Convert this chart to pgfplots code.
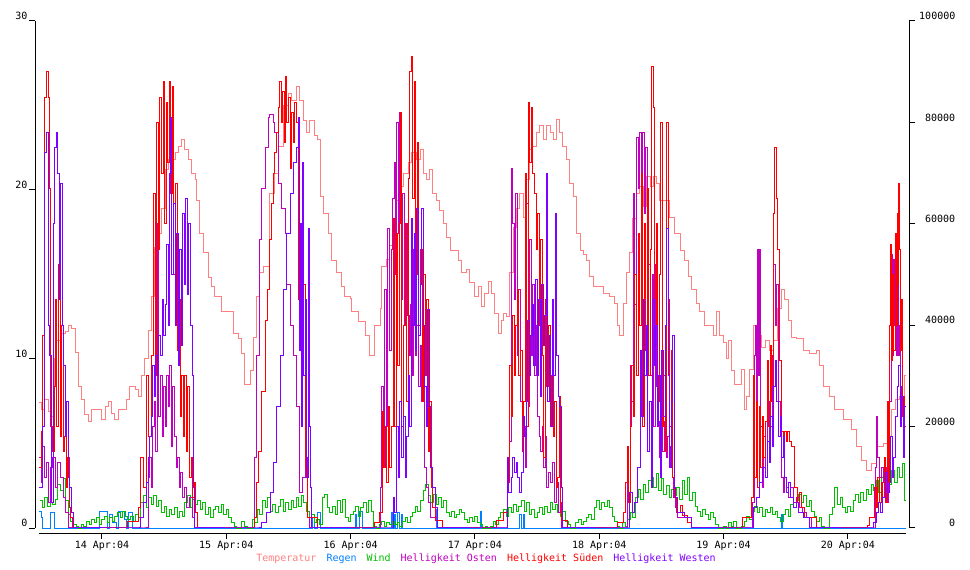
\documentclass[border=0pt]{standalone}
\usepackage{pgfplots}
\pgfplotsset{compat=1.18}
\usepackage{fontspec}
\setmainfont{DejaVu Sans Mono}
\setmonofont{DejaVu Sans Mono}
\definecolor{colTemp}{HTML}{FF8080}
\definecolor{colRain}{HTML}{0080FF}
\definecolor{colWind}{HTML}{00C000}
\definecolor{colOsten}{HTML}{C000C0}
\definecolor{colSueden}{HTML}{FF0000}
\definecolor{colWesten}{HTML}{8000FF}
\newcommand{\lblfont}{\fontsize{10bp}{12bp}\selectfont}
\pgfplotsset{
  base/.style={
    at={(35bp,42bp)}, anchor=south west, scale only axis,
    width=874bp, height=507bp,
    xmin=11.07, xmax=179.8,
    axis line style={draw=none},
    tick align=outside, major tick length=6bp,
    tick style={black, line width=1bp},
    ticklabel style={font=\lblfont},
    clip=false,
  },
  bright/.style={base, ymin=0, ymax=100000, xtick=\empty, ytick=\empty},
  ser/.style={draw=#1, const plot, line width=1bp, mark=none},
}
\begin{document}
\begin{tikzpicture}
\useasboundingbox (0,0) rectangle (970bp,570bp);
\fill[white] (0,0) rectangle (970bp,570bp);
\begin{axis}[base,
  ymin=0, ymax=30,
  xtick={24,48,72,96,120,144,168},
  xticklabels={14 Apr:04,15 Apr:04,16 Apr:04,17 Apr:04,18 Apr:04,19 Apr:04,20 Apr:04},
  ytick={0,10,20,30}, yticklabels={0,10,20,30},
  xtick pos=left, ytick pos=left,
  xtick style={yshift=-5bp},
  xticklabel style={yshift=-4bp},
  yticklabel style={inner sep=1.5bp, yshift=5bp},
]
% Temperatur
\addplot[ser=colTemp] coordinates {(11.8,7.4)(12.4,7.0)(13.0,7.6)(13.6,6.9)(14.3,6.6)(14.9,10.0)(15.3,11.1)(15.9,11.5)(16.9,11.6)(17.5,12.0)(18.2,11.8)(18.8,10.4)(19.4,8.4)(20.1,7.6)(20.7,6.7)(21.4,6.3)(22.0,7.0)(23.0,7.0)(23.9,6.4)(24.6,7.2)(25.2,7.5)(25.9,6.8)(26.5,6.4)(27.1,7.0)(28.1,7.0)(28.8,7.6)(29.4,8.4)(30.4,8.2)(31.0,7.8)(31.7,9.0)(32.3,10.0)(32.9,11.7)(33.6,13.7)(34.2,16.6)(34.9,17.4)(35.5,18.9)(36.2,21.2)(36.8,21.8)(38.1,22.2)(38.7,22.6)(39.4,23.0)(40.0,22.4)(40.7,21.8)(41.3,21.0)(42.0,20.6)(42.3,19.4)(42.9,17.4)(43.6,16.3)(44.5,14.8)(45.2,14.3)(45.8,13.7)(47.1,12.8)(49.0,12.8)(49.3,11.5)(50.3,11.2)(51.0,10.3)(51.6,8.5)(52.6,9.3)(53.2,11.3)(53.9,13.7)(54.5,15.1)(55.1,15.5)(56.4,19.8)(57.4,21.0)(58.0,22.6)(59.0,25.0)(60.0,25.7)(60.6,25.3)(61.6,26.1)(62.2,25.3)(62.9,24.1)(63.5,23.4)(64.1,24.1)(65.1,23.2)(65.7,23.0)(66.1,19.6)(66.7,18.6)(67.7,17.4)(68.3,15.8)(69.3,15.1)(70.3,14.3)(70.9,13.7)(71.9,13.6)(72.2,12.8)(73.5,12.2)(74.8,11.4)(75.7,10.2)(76.7,12.0)(77.7,13.0)(78.0,15.5)(79.0,15.9)(79.6,16.7)(80.6,19.4)(81.2,20.2)(82.2,21.0)(83.1,21.6)(83.8,22.2)(84.7,21.8)(85.4,22.4)(86.0,21.0)(86.7,20.6)(87.3,21.2)(87.9,19.8)(88.6,19.4)(89.2,18.8)(89.9,18.0)(90.5,17.2)(91.2,16.4)(92.1,16.4)(92.8,15.8)(93.4,15.1)(94.4,15.3)(95.0,14.5)(96.0,13.7)(96.6,14.3)(97.3,13.1)(97.9,13.9)(98.6,14.6)(99.2,13.9)(99.8,12.7)(100.5,11.5)(101.1,12.3)(101.5,12.7)(102.1,12.5)(102.7,15.1)(103.4,17.8)(104.0,18.9)(104.7,19.8)(105.3,18.4)(106.0,20.6)(106.6,22.4)(107.2,22.6)(107.9,23.4)(108.5,23.8)(109.2,23.0)(109.8,23.8)(110.5,23.4)(111.1,23.0)(111.8,24.2)(112.4,23.4)(113.0,22.6)(113.7,21.8)(114.3,20.4)(115.0,19.6)(115.6,17.4)(116.3,16.4)(116.9,16.2)(117.5,15.8)(118.2,14.9)(118.8,14.3)(120.8,13.9)(122.0,13.7)(123.0,13.3)(123.6,12.0)(124.0,11.4)(124.6,13.3)(125.3,15.1)(125.9,16.3)(126.5,18.3)(127.2,19.8)(127.8,20.2)(128.5,19.0)(129.1,20.8)(129.8,20.2)(130.4,20.8)(131.1,20.4)(131.7,19.4)(132.7,19.4)(133.6,18.4)(134.6,17.4)(135.6,16.4)(136.5,15.8)(137.2,14.9)(137.8,14.1)(138.8,13.3)(139.4,12.8)(140.4,12.0)(141.7,12.0)(142.0,11.4)(142.6,12.8)(143.3,11.4)(143.9,11.0)(144.6,10.0)(144.9,11.1)(145.5,9.3)(146.2,8.5)(147.5,9.4)(148.0,7.0)(148.4,7.8)(149.1,9.4)(149.7,12.0)(150.4,11.4)(151.3,10.7)(152.0,11.1)(152.9,10.5)(153.6,11.1)(154.5,13.0)(155.2,14.1)(155.8,13.5)(156.5,12.3)(157.1,11.3)(158.1,11.2)(159.4,10.5)(160.6,10.3)(161.9,10.5)(162.6,9.6)(163.2,8.4)(164.5,7.8)(165.5,7.0)(167.1,6.4)(168.7,5.8)(169.7,4.8)(170.6,4.0)(171.6,3.4)(172.6,3.8)(173.5,4.8)(174.8,5.0)(175.8,5.4)(176.4,7.0)(177.1,7.6)(178.0,7.8)(179.0,9.0)(179.2,9.0)};
% Regen
\addplot[ser=colRain] coordinates {(11.8,1.0)(12.3,0.6)(12.6,0)(14.0,0.9)(14.9,0)(23.6,1.0)(25.0,0)(25.5,0.8)(26.1,0.3)(26.9,0)(27.1,1.0)(28.4,0.5)(28.8,0)(29.2,0.9)(29.8,0)(64.7,0.6)(65.1,0)(65.7,0.9)(66.1,0)(73.0,0.8)(73.2,0)(73.8,1.0)(74.2,0)(79.8,0.9)(80.0,0)(80.4,0.8)(80.6,0)(81.1,0.9)(81.4,0)(81.9,0.8)(82.1,0)(88.5,1.1)(88.8,0)(97.0,1.0)(97.3,0)(104.7,0.8)(105.0,0)(105.3,0.8)(105.6,0)(155.1,0.8)(155.3,0)(179.2,0)};
% Wind
\addplot[ser=colWind] coordinates {(12,1.6)(12.5,1.2)(13,1.8)(13.5,1.3)(14,1.5)(14.5,1.4)(15,1.7)(15.5,2.6)(16,2.2)(16.5,2.9)(17,1.6)(17.5,0.8)(18,0.4)(18.5,0.2)(19,0.1)(19.5,0.0)(20,0.2)(20.5,0.1)(21,0.4)(21.5,0.2)(22,0.5)(22.5,0.3)(23,0.6)(23.5,0.2)
(24,0.5)(24.5,0.7)(25,0.3)(25.5,0.6)(26,0.4)(26.5,0.7)(27,0.9)(27.5,0.6)(28,1.0)(28.5,0.7)(29,0.5)(29.5,0.7)(30,0.4)(30.5,0.8)(31,0.6)(31.5,1.5)(32,1.9)(32.5,1.2)(33,1.8)(33.5,1.4)(34,1.9)(34.5,1.3)(35,1.6)(35.5,0.9)(36,1.3)(36.5,0.7)(37,1.1)(37.5,0.8)(38,1.2)(38.5,0.6)(39,1.0)(39.5,0.7)(40,1.5)(40.5,1.9)(41,1.2)(41.5,1.7)(42,1.4)(42.5,1.6)(43,1.1)(43.5,1.5)(44,0.8)(44.5,1.2)(45,0.6)(45.5,1.1)(46,1.3)(46.5,0.9)(47,1.4)(47.5,0.8)
(48,1.1)(48.5,0.6)(49,0.3)(49.5,0.1)(50,0.0)(50.5,0.0)(51,0.4)(51.5,0.1)(52,0.0)(52.5,0.0)(53,0.5)(53.5,0.3)(54,1.1)(54.5,0.8)(55,1.6)(55.5,1.2)(56,1.8)(56.5,1.0)(57,1.4)(57.5,0.9)(58,1.3)(58.5,1.7)(59,1.0)(59.5,1.5)(60,1.1)(60.5,1.6)(61,1.2)(61.5,1.8)(62,1.3)(62.5,1.9)(63,1.5)(63.5,1.0)(64,0.6)(64.5,0.8)(65,0.3)(65.5,0.5)(66,0.2)(66.5,1.8)(67,2.0)(67.5,1.2)(68,0.9)(68.5,1.3)(69,0.8)(69.5,1.6)(70,0.9)(70.5,1.7)(71,0.6)(71.5,0.4)
(72,0.8)(72.5,1.0)(73,1.3)(73.5,0.7)(74,1.2)(74.5,1.5)(75,0.9)(75.5,1.6)(76,1.0)(76.5,0.1)(77,0.0)(77.5,0.2)(78,0.4)(78.5,0.1)(79,0.3)(79.5,0.2)(80,0.4)(80.5,0.2)(81,0.3)(81.5,0.1)(82,0.4)(82.5,0.6)(83,0.3)(83.5,0.7)(84,0.9)(84.5,1.3)(85,1.0)(85.5,1.6)(86,2.2)(86.5,2.6)(87,1.9)(87.5,1.5)(88,2.0)(88.5,1.4)(89,1.8)(89.5,1.2)(90,1.6)(90.5,0.9)(91,0.7)(91.5,1.0)(92,0.6)(92.5,0.8)(93,1.1)(93.5,0.9)(94,0.5)(94.5,0.3)(95,0.6)(95.5,0.4)
(96,0.7)(96.5,0.3)(97,0.2)(97.5,0.0)(98,0.1)(98.5,0.0)(99,0.1)(99.5,0.4)(100,0.2)(100.5,0.6)(101,0.9)(101.5,1.1)(102,0.7)(102.5,1.2)(103,0.9)(103.5,1.4)(104,1.0)(104.5,1.3)(105,1.6)(105.5,1.0)(106,1.5)(106.5,0.8)(107,1.1)(107.5,0.6)(108,0.9)(108.5,1.2)(109,0.8)(109.5,1.3)(110,0.9)(110.5,1.5)(111,1.1)(111.5,1.4)(112,0.9)(112.5,0.7)(113,1.0)(113.5,0.4)(114,0.2)(114.5,0.0)(115,0.0)(115.5,0.3)(116,0.5)(116.5,0.2)(117,0.4)(117.5,0.6)(118,0.8)(118.5,0.5)(119,1.2)(119.5,1.6)
(120,1.1)(120.5,1.5)(121,1.3)(121.5,1.6)(122,1.2)(122.5,0.7)(123,0.4)(123.5,0.1)(124,0.0)(124.5,0.3)(125,0.1)(125.5,0.5)(126,0.9)(126.5,0.6)(127,1.8)(127.5,2.3)(128,1.7)(128.5,2.6)(129,2.1)(129.5,2.8)(130,3.0)(130.5,2.4)(131,3.2)(131.5,2.2)(132,2.9)(132.5,2.0)(133,2.5)(133.5,1.8)(134,2.3)(134.5,1.9)(135,2.4)(135.5,1.7)(136,2.8)(136.5,2.0)(137,3.0)(137.5,1.6)(138,2.1)(138.5,1.3)(139,1.0)(139.5,0.7)(140,1.1)(140.5,0.8)(141,0.5)(141.5,0.9)(142,0.6)(142.5,0.2)(143,0.0)(143.5,0.0)
(144,0.1)(144.5,0.0)(145,0.3)(145.5,0.1)(146,0.4)(146.5,0.0)(147,0.0)(147.5,0.1)(148,0.4)(148.5,0.7)(149,0.5)(149.5,1.0)(150,1.3)(150.5,0.9)(151,1.2)(151.5,0.7)(152,1.1)(152.5,0.9)(153,1.2)(153.5,0.8)(154,1.0)(154.5,0.6)(155,0.4)(155.5,0.8)(156,1.1)(156.5,0.7)(157,1.4)(157.5,1.2)(158,1.6)(158.5,2.0)(159,1.5)(159.5,1.9)(160,1.3)(160.5,1.6)(161,1.0)(161.5,0.7)(162,0.4)(162.5,0.6)(163,0.1)(163.5,0.0)(164,0.0)(164.5,0.8)(165,1.2)(165.5,2.4)(166,1.4)(166.5,1.8)(167,1.2)(167.5,0.9)
(168,1.3)(168.5,1.0)(169,1.6)(169.5,2.0)(170,1.5)(170.5,2.1)(171,1.6)(171.5,2.3)(172,2.0)(172.5,2.6)(173,2.2)(173.5,2.8)(174,2.1)(174.5,3.0)(175,2.5)(175.5,3.2)(176,2.6)(176.5,3.4)(177,2.7)(177.5,3.6)(178,3.0)(178.5,3.8)(179,1.6)(179.2,1.6)};
\draw[black, line width=1bp] ([yshift=-5bp]axis cs:11.8,0) -- ([yshift=-5bp]axis cs:179.2,0);
\draw[black, line width=1bp] (axis cs:11.07,0) -- (axis cs:11.07,30);
\end{axis}
% Helligkeit Osten
\begin{axis}[bright]
\addplot[ser=colOsten] coordinates {(11.8,14000)(12.3,9000)(12.6,16000)(13.0,10000)(13.3,13000)(13.7,5000)(14.0,12000)(14.5,14000)(15.0,8000)(15.5,13000)(16.0,10000)(16.5,6000)(17.0,3000)(17.5,0)
(32.0,0)(32.9,10000)(33.2,14000)(33.5,8000)(33.8,20000)(34.1,25000)(34.4,15000)(34.7,60000)(35.0,22000)(35.3,30000)(35.6,18000)(35.9,28000)(36.2,20000)(36.5,30000)(36.8,24000)(37.1,32000)(37.4,16000)(37.7,28000)(38.0,18000)(38.3,12000)(38.6,14000)(38.9,8000)(39.2,11000)(39.5,6000)(39.9,8000)(40.4,4000)(40.9,6000)(41.4,2000)(41.9,0)
(52.9,0)(53.4,14000)(53.9,34000)(54.5,57000)(54.8,67000)(55.5,75000)(56.1,81000)(56.4,81500)(57.1,80000)(57.4,78000)(58.0,68000)(58.7,63000)(59.4,58000)(59.7,48000)(60.3,40000)(60.9,34000)(61.6,24000)(62.2,7000)(62.8,10000)(63.2,14000)(63.6,2000)(64.1,0)
(77.6,0)(77.7,8000)(78.0,28000)(78.3,12000)(78.6,47000)(78.9,20000)(79.2,59000)(79.5,35000)(79.8,55000)(80.1,65000)(80.4,72000)(80.7,50000)(80.9,80000)(81.2,58000)(81.5,82000)(81.8,45000)(82.1,66000)(82.4,40000)(82.7,60000)(83.0,42000)(83.3,34000)(83.6,44000)(83.9,30000)(84.2,55000)(84.5,34000)(84.8,40000)(85.1,28000)(85.4,36000)(85.7,25000)(86.0,32000)(86.3,12000)(86.7,8000)(87.0,5000)(87.5,2000)(88.7,0)
(102.0,0)(102.2,14000)(102.6,17000)(103.0,71000)(103.3,60000)(103.6,45000)(103.9,66000)(104.2,34000)(104.5,47000)(104.8,25000)(105.1,15000)(105.4,20000)(105.7,12000)(106.0,64000)(106.3,24000)(106.6,57000)(106.9,34000)(107.2,48000)(107.5,30000)(107.8,40000)(108.1,22000)(108.4,18000)(108.7,15000)(109.0,20000)(109.3,12000)(109.6,18000)(109.9,8000)(110.2,11000)(110.6,9000)(111.0,13000)(111.4,5000)(111.8,9000)(112.2,3000)(112.6,5000)(112.8,0)
(125.2,0)(125.4,15000)(125.7,6000)(126.0,32000)(126.3,25000)(126.6,66000)(126.9,44000)(127.2,77000)(127.5,67000)(127.8,78000)(128.1,70000)(128.4,78000)(128.7,62000)(129.0,75000)(129.3,45000)(129.6,52000)(129.9,30000)(130.2,50000)(130.5,20000)(130.8,52000)(131.1,28000)(131.4,21000)(131.7,14000)(132.0,20000)(132.3,15000)(132.6,21000)(132.9,14000)(133.2,18000)(133.5,12000)(133.8,16000)(134.1,10000)(134.4,6000)(134.7,4000)(135.2,2000)(137.9,0)
(149.4,0)(149.6,5000)(149.9,34000)(150.1,40000)(150.3,17000)(150.5,55000)(150.7,30000)(150.9,55000)(151.2,20000)(151.5,8000)(151.8,18000)(152.1,10000)(152.5,25000)(152.8,15000)(153.1,20000)(153.4,34000)(153.7,52000)(154.0,40000)(154.3,48000)(154.6,25000)(154.9,22000)(155.2,10000)(155.5,7000)(155.8,10000)(156.2,8000)(156.6,6000)(157.0,8000)(157.5,5000)(158.0,6000)(158.6,4000)(159.2,3000)(160.0,2000)(161.0,0)
(173.2,0)(173.4,12000)(173.6,22000)(173.8,14000)(174.1,10000)(174.4,12000)(174.8,9000)(175.2,12000)(175.5,5000)(175.8,20000)(176.1,25000)(176.4,54000)(176.6,34000)(176.8,53000)(177.0,40000)(177.2,48000)(177.4,34000)(177.6,55000)(177.8,34000)(178.0,40000)(178.2,28000)(178.4,22000)(178.6,25000)(178.8,16000)(179.0,20000)(179.2,20000)};
\end{axis}
% Helligkeit Sueden
\begin{axis}[bright]
\addplot[ser=colSueden] coordinates {(11.8,12000)(12.3,19000)(12.6,38000)(13.0,85000)(13.3,90000)(13.6,85000)(13.8,67000)(14.1,20000)(14.5,15000)(14.8,28000)(15.0,45000)(15.3,20000)(15.6,52000)(15.9,18000)(16.2,40000)(16.5,15000)(16.8,18000)(17.1,8000)(17.4,14000)(17.7,4000)(18.0,2000)(18.3,0)
(29.0,1200)(31.0,4000)(31.5,14000)(32.0,8000)(32.5,30000)(33.0,18000)(33.5,34000)(34.0,66000)(34.3,30000)(34.6,80000)(34.9,55000)(35.2,85000)(35.5,70000)(35.8,88000)(36.1,60000)(36.4,84000)(36.7,72000)(37.0,88000)(37.3,66000)(37.6,87000)(37.9,50000)(38.2,68000)(38.5,35000)(38.8,45000)(39.1,22000)(39.4,30000)(39.7,18000)(40.0,30000)(40.3,15000)(40.6,28000)(40.9,10000)(41.2,14000)(41.5,6000)(41.8,9000)(42.1,3000)(42.4,0)
(52.6,0)(53.5,2000)(53.9,9000)(54.2,15000)(54.8,27000)(55.5,41000)(55.9,47000)(56.4,57000)(56.8,64000)(57.1,70000)(57.4,74000)(57.7,78000)(58.0,83000)(58.3,88000)(58.6,80000)(58.9,86000)(59.2,76000)(59.4,89000)(59.7,80000)(60.0,85000)(60.3,71000)(60.6,82000)(60.9,76000)(61.2,84000)(61.6,80000)(61.9,45000)(62.2,60000)(62.5,34000)(62.8,48000)(63.2,12000)(63.6,2000)(65.7,0)
(76.7,1000)(77.6,3000)(78.1,23000)(78.4,12000)(78.7,20000)(79.0,9000)(79.3,24000)(79.6,12000)(79.9,20000)(80.2,61000)(80.5,20000)(80.8,58000)(81.1,32000)(81.4,60000)(81.6,82000)(81.9,20000)(82.2,40000)(82.5,60000)(82.8,25000)(83.1,69000)(83.4,90000)(83.7,93000)(84.0,65000)(84.3,88000)(84.6,50000)(84.9,76000)(85.2,40000)(85.5,55000)(85.8,25000)(86.1,50000)(86.4,30000)(86.7,45000)(87.0,15000)(87.3,25000)(87.6,8000)(87.9,4000)(88.3,1500)(89.8,0)
(100.2,1500)(101.6,3000)(102.2,9000)(102.7,32000)(103.0,22000)(103.3,42000)(103.6,30000)(103.9,40000)(104.2,47000)(104.5,30000)(104.8,35000)(105.1,15000)(105.4,25000)(105.7,70000)(106.0,20000)(106.3,84000)(106.6,72000)(106.9,83000)(107.2,70000)(107.5,66000)(107.8,55000)(108.1,62000)(108.4,40000)(108.7,57000)(109.0,34000)(109.3,14000)(109.6,45000)(109.9,28000)(110.2,40000)(110.5,20000)(110.8,30000)(111.1,18000)(111.4,25000)(111.7,8000)(112.0,10000)(112.3,26000)(112.6,5000)(112.8,1500)(113.9,0)
(123.6,1000)(124.6,3000)(125.0,9000)(125.4,16000)(125.7,5000)(126.0,20000)(126.3,32000)(126.6,22000)(126.9,50000)(127.2,30000)(127.5,58000)(127.8,40000)(128.1,70000)(128.4,20000)(128.7,60000)(129.0,35000)(129.3,67000)(129.6,30000)(129.9,55000)(130.1,91000)(130.4,83000)(130.7,40000)(131.0,60000)(131.3,25000)(131.6,50000)(131.9,80000)(132.2,20000)(132.5,30000)(132.8,15000)(133.0,80000)(133.3,45000)(133.6,20000)(133.9,35000)(134.2,10000)(134.5,6000)(135.0,3000)(135.6,4500)(136.1,2500)(137.1,1000)(137.9,0)
(147.7,2000)(149.4,6000)(149.7,30000)(150.0,10000)(150.3,25000)(150.6,8000)(150.9,24000)(151.2,12000)(151.5,22000)(151.8,14000)(152.1,21000)(152.4,33000)(152.7,20000)(153.0,36000)(153.3,25000)(153.6,62000)(153.9,75000)(154.2,65000)(154.5,55000)(154.8,33000)(155.1,19000)(155.5,17000)(155.8,19000)(156.1,17000)(156.4,19000)(156.8,17000)(157.2,16000)(157.7,8000)(158.3,5000)(158.7,7000)(159.1,4000)(159.7,2000)(162.0,0)
(171.8,500)(172.2,2000)(173.2,8000)(173.5,4000)(173.8,10000)(174.1,5000)(174.4,9000)(174.7,6000)(175.0,14000)(175.3,5000)(175.6,25000)(175.9,9000)(176.1,40000)(176.3,56000)(176.5,33000)(176.7,50000)(176.9,35000)(177.1,58000)(177.3,40000)(177.5,62000)(177.7,48000)(177.8,68000)(178.0,55000)(178.2,35000)(178.4,45000)(178.6,22000)(178.8,26000)(179.0,20000)(179.2,20000)};
\end{axis}
% Helligkeit Westen (with right axis)
\begin{axis}[base,
  ymin=0, ymax=100000,
  xtick=\empty,
  ytick={0,20000,40000,60000,80000,100000},
  yticklabels={0,20000,40000,60000,80000,100000},
  scaled y ticks=false,
  ytick pos=right,
  yticklabel style={anchor=west, text width=36bp, align=right, inner sep=1bp, xshift=3bp, yshift=5bp},
]
\addplot[ser=colWesten] coordinates {(11.8,8000)(12.5,20000)(13.0,74000)(13.3,78000)(13.6,40000)(13.9,34000)(14.2,5000)(14.6,60000)(14.9,75000)(15.2,78000)(15.5,70000)(15.8,45000)(16.0,68000)(16.3,40000)(16.6,32000)(16.9,18000)(17.2,25000)(17.5,10000)(17.8,8000)(18.1,3000)(18.5,0)
(30.9,0)(31.5,2000)(32.0,5000)(32.5,9000)(32.9,14000)(33.2,18000)(33.5,22000)(33.8,32000)(34.1,26000)(34.4,34000)(34.7,30000)(35.0,38000)(35.3,34000)(35.6,45000)(35.9,38000)(36.2,44000)(36.5,56000)(36.8,40000)(37.1,70000)(37.3,81000)(37.5,50000)(37.8,64000)(38.1,40000)(38.4,58000)(38.7,32000)(39.0,55000)(39.3,36000)(39.6,62000)(39.9,48000)(40.2,65000)(40.5,46000)(40.8,60000)(41.1,40000)(41.4,30000)(41.6,8000)(41.9,0)
(53.9,0)(54.8,1000)(55.8,3000)(56.5,7000)(57.1,13000)(57.7,24000)(58.4,34000)(59.0,47000)(59.6,58000)(60.3,66000)(60.9,72000)(61.6,75000)(61.9,81000)(62.1,35000)(62.3,60000)(62.5,20000)(62.8,72000)(63.0,30000)(63.3,45000)(63.5,10000)(63.8,59000)(64.0,20000)(64.3,8000)(64.5,0)
(80.0,0)(80.2,6000)(80.5,3000)(80.9,20000)(81.2,10000)(81.5,25000)(81.9,14000)(82.2,22000)(82.5,10000)(82.8,18000)(83.1,30000)(83.4,20000)(83.8,61000)(84.0,40000)(84.3,58000)(84.6,35000)(84.8,63000)(85.1,38000)(85.4,48000)(85.7,63000)(86.0,40000)(86.3,28000)(86.6,20000)(86.9,43000)(87.2,24000)(87.5,12000)(87.9,8000)(88.3,4000)(88.8,0)
(102.0,0)(102.2,14000)(102.5,7000)(103.0,10000)(103.3,14000)(103.6,11000)(104.0,13000)(104.3,10000)(104.7,7000)(105.0,11000)(105.3,22000)(105.6,18000)(105.9,25000)(106.2,41000)(106.5,30000)(106.8,38000)(107.1,44000)(107.4,32000)(107.7,49000)(108.0,30000)(108.3,45000)(108.6,26000)(108.9,48000)(109.2,36000)(109.5,42000)(109.8,70000)(110.0,25000)(110.3,38000)(110.6,20000)(110.9,45000)(111.2,30000)(111.5,62000)(111.8,34000)(112.1,26000)(112.4,24000)(112.7,8000)(113.0,0)
(125.8,0)(125.9,7000)(126.4,3000)(126.9,5000)(127.4,12000)(127.9,35000)(128.2,22000)(128.5,45000)(128.8,30000)(129.1,40000)(129.4,15000)(129.7,25000)(130.0,8000)(130.3,45000)(130.6,32000)(130.9,40000)(131.2,20000)(131.5,30000)(131.8,10000)(132.1,35000)(132.4,22000)(132.7,40000)(133.0,59000)(133.3,30000)(133.6,12000)(133.9,25000)(134.2,38000)(134.5,8000)(134.8,6000)(135.2,3000)(136.5,2000)(137.9,0)
(149.5,0)(149.7,4000)(150.3,6000)(150.9,9000)(151.5,12000)(152.1,10000)(152.4,17000)(152.8,13000)(153.1,22000)(153.4,16000)(153.7,28000)(154.0,33000)(154.3,25000)(154.6,18000)(154.9,22000)(155.2,14000)(155.5,18000)(155.8,10000)(156.2,7000)(156.6,9000)(157.0,6000)(157.5,4000)(158.0,5000)(158.5,3000)(159.5,2000)(160.5,0)
(172.8,0)(173.0,1000)(173.6,3000)(173.9,5000)(174.2,3000)(174.6,6000)(175.2,11000)(175.6,7000)(176.0,9000)(176.3,18000)(176.6,10000)(176.9,14000)(177.2,22000)(177.5,28000)(177.8,32000)(178.1,20000)(178.4,26000)(178.7,14000)(179.0,24000)(179.2,24000)};
\draw[black, line width=1bp] (axis cs:179.8,0) -- (axis cs:179.8,100000);
\end{axis}
\node[font=\lblfont, anchor=center, inner sep=0pt] at (486bp,11bp)
  {\textcolor{colTemp}{Temperatur}\hspace{10bp}\textcolor{colRain}{Regen}\hspace{10bp}\textcolor{colWind}{Wind}\hspace{10bp}\textcolor{colOsten}{Helligkeit Osten}\hspace{10bp}\textcolor{colSueden}{Helligkeit Süden}\hspace{10bp}\textcolor{colWesten}{Helligkeit Westen}};
\end{tikzpicture}
\end{document}
